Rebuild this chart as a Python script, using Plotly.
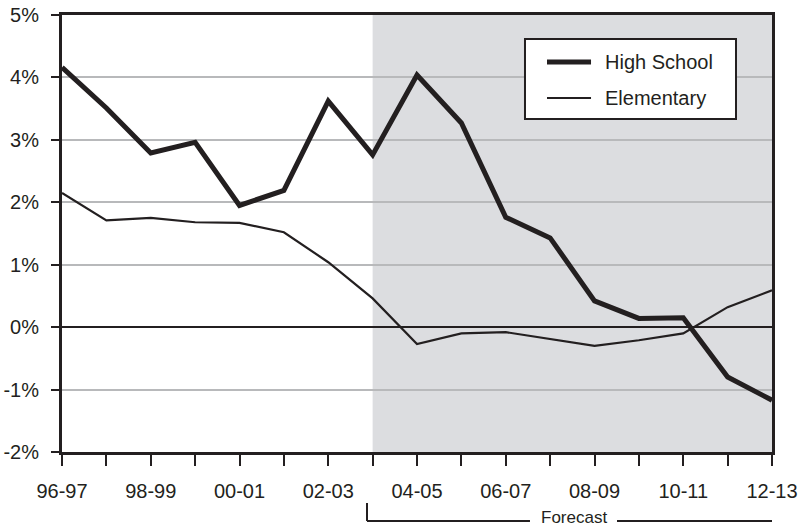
import plotly.graph_objects as go

# School years on the x axis (labels shown on every other year)
years = ["96-97", "97-98", "98-99", "99-00", "00-01", "01-02", "02-03", "03-04",
         "04-05", "05-06", "06-07", "07-08", "08-09", "09-10", "10-11", "11-12", "12-13"]

# Annual enrollment change, percent
high_school = [4.16, 3.51, 2.79, 2.96, 1.95, 2.19, 3.62, 2.76,
               4.04, 3.27, 1.76, 1.43, 0.42, 0.14, 0.15, -0.80, -1.17]
elementary = [2.15, 1.71, 1.75, 1.68, 1.67, 1.52, 1.04, 0.46,
              -0.27, -0.10, -0.08, -0.19, -0.30, -0.21, -0.10, 0.32, 0.59]

y_ticks = [-2, -1, 0, 1, 2, 3, 4, 5]
y_tick_labels = ["-2%", "-1%", "0%", "1%", "2%", "3%", "4%", "5%"]

forecast_start = "03-04"

INK = "#231f20"
FONT = "Liberation Sans, Arial, Helvetica, sans-serif"

x_idx = list(range(len(years)))
x_labels = [y if i % 2 == 0 else "" for i, y in enumerate(years)]
fc = years.index(forecast_start)

fig = go.Figure()
fig.add_trace(go.Scatter(x=x_idx, y=elementary, mode="lines", name="Elementary",
                         line=dict(color=INK, width=2.2), showlegend=False))
fig.add_trace(go.Scatter(x=x_idx, y=high_school, mode="lines", name="High School",
                         line=dict(color=INK, width=5), showlegend=False))

# Shaded forecast period
fig.add_shape(type="rect", xref="x", yref="y", x0=fc, x1=len(years) - 1,
              y0=y_ticks[0], y1=y_ticks[-1], fillcolor="#dcdde0",
              line=dict(width=0), layer="below")

# Legend box drawn by hand
fig.add_shape(type="rect", xref="paper", yref="paper", x0=0.6521, x1=0.9493,
              y0=0.762, y1=0.945, fillcolor="white", line=dict(color=INK, width=2))
fig.add_shape(type="line", xref="paper", yref="paper", x0=0.6831, x1=0.7451,
              y0=0.8924, y1=0.8924, line=dict(color=INK, width=5))
fig.add_shape(type="line", xref="paper", yref="paper", x0=0.6831, x1=0.7451,
              y0=0.8101, y1=0.8101, line=dict(color=INK, width=2))
for label, ypos in [("High School", 0.8924), ("Elementary", 0.8101)]:
    fig.add_annotation(text=label, xref="paper", yref="paper", x=0.762, y=ypos,
                       xanchor="left", yanchor="middle", showarrow=False,
                       font=dict(family=FONT, size=20, color=INK))

# Forecast bracket under the axis
bracket_y0, bracket_y1 = -0.1167, -0.1579
left_x, right_x = fc - 0.127, len(years) - 1 + 0.09
for xs, ys in [((left_x, left_x), (bracket_y0, bracket_y1)),
               ((right_x, right_x), (bracket_y0, bracket_y1)),
               ((left_x, 10.546), (bracket_y1, bracket_y1)),
               ((12.507, right_x), (bracket_y1, bracket_y1))]:
    fig.add_shape(type="line", xref="x", yref="paper", x0=xs[0], x1=xs[1],
                  y0=ys[0], y1=ys[1], line=dict(color=INK, width=2))
fig.add_annotation(text="Forecast", xref="x", yref="paper", x=11.53, y=-0.1739,
                   xanchor="center", yanchor="bottom", showarrow=False, borderpad=0,
                   font=dict(family=FONT, size=17, color=INK))

fig.update_layout(
    width=804, height=529,
    margin=dict(l=62, r=32, t=15, b=77, autoexpand=False),
    paper_bgcolor="white", plot_bgcolor="white",
    font=dict(family=FONT, size=20, color=INK),
    xaxis=dict(range=[0, len(years) - 1], tickmode="array", tickvals=x_idx,
               ticktext=x_labels, ticks="outside", ticklen=11, tickwidth=2,
               tickcolor=INK, showline=True, linecolor=INK, linewidth=3,
               mirror=True, showgrid=False, zeroline=False, automargin=False,
               ticklabelstandoff=8),
    yaxis=dict(range=[y_ticks[0], y_ticks[-1]], tickmode="array", tickvals=y_ticks,
               ticktext=y_tick_labels, ticks="outside", ticklen=8, tickwidth=2,
               tickcolor=INK, showline=True, linecolor=INK, linewidth=3,
               mirror=True, showgrid=True, gridcolor="#b8b9bb", gridwidth=2,
               zeroline=True, zerolinecolor=INK, zerolinewidth=2, automargin=False,
               ticklabelstandoff=8),
)

fig.write_html("out.html")
